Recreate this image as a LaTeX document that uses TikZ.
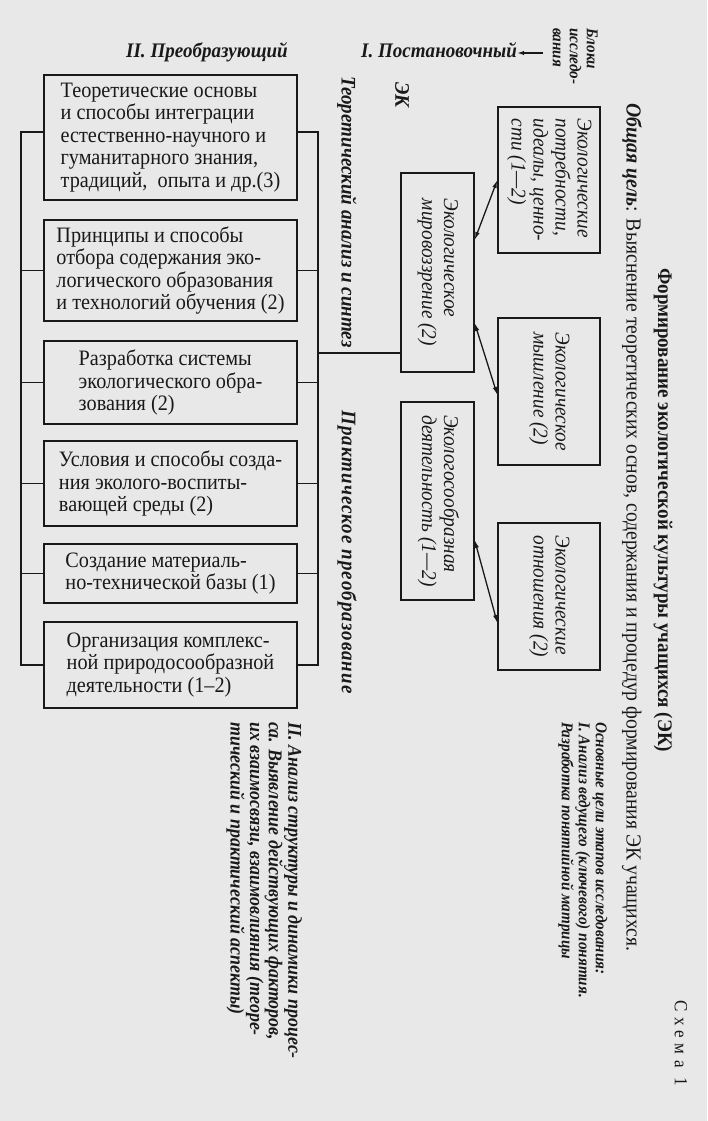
\documentclass[tikz,border=0pt]{standalone}
\usepackage{fontspec}
\setmainfont{Liberation Serif}[FakeStretch=0.92]
\usepackage{graphicx}
\usetikzlibrary{arrows.meta}
\definecolor{paper}{RGB}{232,232,232}
\definecolor{ink}{RGB}{25,25,25}
\newcommand{\vtxt}[1]{\rotatebox{-90}{\begin{tabular}{@{}l@{}}#1\end{tabular}}}
\begin{document}
\begin{tikzpicture}[x=1pt,y=-1pt,
  box/.style={draw=ink, line width=1.3pt, inner sep=0pt, align=left, text=ink,
    font=\fontsize{22}{22.5}\selectfont, minimum width=253pt},
  vbox/.style={draw=ink, line width=1.3pt, inner sep=0pt, text=ink,
    font=\itshape\fontsize{21}{22}\selectfont},
  lbl/.style={inner sep=0pt, text=ink, font=\bfseries\itshape\fontsize{20.7}{21}\selectfont},
  con/.style={draw=ink, line width=1.3pt},
  dbl/.style={con, {Latex[length=8pt,width=4.5pt]}-{Latex[length=8pt,width=4.5pt]}}]
\useasboundingbox[fill=paper] (0,0) rectangle (707,1121);

% left column boxes
\node[box, minimum height=125pt] (b1) at (170.5,137.5) {Теоретические основы\\и способы интеграции\\естественно-научного и\\гуманитарного знания,\\традиций,\ \ опыта и др.(3)};
\node[box, minimum height=101pt] (b2) at (170.5,270.5) {Принципы и способы\\отбора содержания эко-\\логического образования\\и технологий обучения (2)};
\node[box, minimum height=83pt] (b3) at (170.5,382.5) {Разработка системы\\экологического обра-\\зования (2)};
\node[box, minimum height=85pt] (b4) at (170.5,483.5) {Условия и способы созда-\\ния эколого-воспиты-\\вающей среды (2)};
\node[box, minimum height=59pt] (b5) at (170.5,573.5) {Создание материаль-\\но-технической базы (1)};
\node[box, minimum height=86pt] (b6) at (170.5,665) {Организация комплекс-\\ной природосообразной\\деятельности (1–2)};

% middle and right boxes
\node[vbox, minimum width=73pt, minimum height=199pt] (mir) at (437.5,272.5) {\vtxt{Экологическое\\мировоззрение (2)}};
\node[vbox, minimum width=73pt, minimum height=198pt] (dey) at (437.5,501) {\vtxt{Экологосообразная\\деятельность (1—2)}};
\node[vbox, minimum width=102pt, minimum height=146pt] (pot) at (549,180) {\vtxt{Экологические\\потребности,\\идеалы, ценно-\\сти (1—2)}};
\node[vbox, minimum width=102pt, minimum height=147pt] (mysh) at (549,391.5) {\vtxt{Экологическое\\мышление (2)}};
\node[vbox, minimum width=102pt, minimum height=147pt] (otn) at (549,596.5) {\vtxt{Экологические\\отношения (2)}};

% labels
\node[lbl, anchor=base] (preob) at (207,58) {II. Преобразующий};
\node[lbl, anchor=base west] (post) at (361,58) {I. Постановочный};
\node[lbl, font=\bfseries\itshape\fontsize{16.5}{17}\selectfont, anchor=north east] (bloki) at (599,28) {\vtxt{Блоки\\исследо-\\вания}};
\node[lbl] (ek) at (402,95) {\rotatebox{-90}{ЭК}};
\node[lbl, anchor=north] (teor) at (347,76) {\rotatebox{-90}{Теоретический анализ и синтез}};
\node[lbl, anchor=north] (prakt) at (347,410) {\rotatebox{-90}{\addfontfeature{LetterSpace=5}Практическое преобразование}};
\node[lbl, font=\bfseries\itshape\fontsize{19.5}{17.8}\selectfont, anchor=north east] (analiz) at (302,722) {\vtxt{II. Анализ структуры и динамики процес-\\са. Выявление действующих факторов,\\их взаимосвязи, взаимовлияния (теоре-\\тический и практический аспекты)}};
\node[lbl, font=\bfseries\itshape\fontsize{16.5}{17}\selectfont, anchor=north east] (osn) at (608,722) {\vtxt{Основные цели этапов исследования:\\I. Анализ ведущего (ключевого) понятия.\\Разработка понятийной матрицы}};
\node[inner sep=0pt, text=ink, font=\fontsize{21.4}{22}\selectfont, anchor=north] (obsh) at (632,103) {\rotatebox{-90}{\textbf{\textit{Общая цель}}: Выяснение теоретических основ, содержания и процедур формирования ЭК учащихся.}};
\node[inner sep=0pt, text=ink, font=\bfseries\fontsize{20.7}{22}\selectfont, anchor=north] (title) at (663,268) {\rotatebox{-90}{Формирование экологической культуры учащихся (ЭК)}};
\node[inner sep=0pt, text=ink, font=\fontsize{18.5}{20}\selectfont, anchor=north] (schema) at (681,1000) {\rotatebox{-90}{\addfontfeature{LetterSpace=30}Схема 1}};

% connectors
\coordinate (arrs) at (543,53);
\draw[con, -{Latex[length=7pt,width=4.5pt]}] (arrs) -- (arrs -| post.east);

\coordinate (lt) at (21,132);
\coordinate (lb) at (21,665);
\coordinate (rt) at (318,132);
\coordinate (rb) at (318,665);
\draw[con] (b1.west |- lt) -- (lt) -- (lb) -- (b6.west |- lb);
\draw[con] (b1.east |- rt) -- (rt) -- (rb) -- (b6.east |- rb);
\foreach \b in {b2,b3,b4,b5} {
  \draw[con] (\b.west) -- (\b.west -| lt);
  \draw[con] (\b.east) -- (\b.east -| rt);
}
\coordinate (mj) at (401,353);
\draw[con] (rt |- mj) -- (mir.west |- mj);

\draw[dbl] ([yshift=32.5pt]mir.east) -- (pot.west);
\draw[dbl] ([yshift=-50.5pt]mir.east) -- ([yshift=-3.5pt]mysh.west);
\draw[dbl] ([yshift=-39pt]dey.east) -- ([yshift=-26.5pt]otn.west);
\end{tikzpicture}
\end{document}
